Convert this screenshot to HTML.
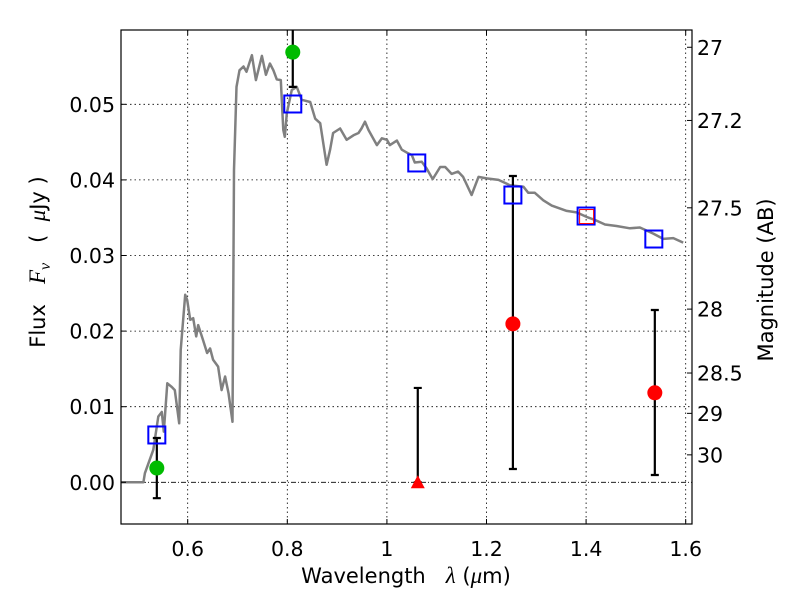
<!DOCTYPE html>
<html><head><meta charset="utf-8">
<style>
body{margin:0;background:#fff;}
svg{display:block;font-family:"DejaVu Sans","Liberation Sans",sans-serif;}
.m{font-family:"Liberation Serif","DejaVu Serif",serif;font-style:italic;}
.pre{white-space:pre;}
</style></head>
<body>
<svg id="chart" width="800" height="600" viewBox="0 0 800 600" xmlns="http://www.w3.org/2000/svg">
<rect x="0" y="0" width="800" height="600" fill="#fff"/>
<g id="grid"></g>
<g id="plot"></g>
<rect x="121" y="30" width="571" height="494" fill="none" stroke="#000" stroke-width="1.2"/>
<g id="axes"></g>
<text class="pre" x="406" y="583" text-anchor="middle" font-size="21">Wavelength&#160;&#160;&#160;<tspan class="m" font-size="23">λ</tspan> (<tspan class="m" font-size="23">μ</tspan>m)</text>
<text class="pre" transform="translate(45,262) rotate(-90)" text-anchor="middle" font-size="21">Flux&#160;&#160;&#160;<tspan class="m" font-size="23">F</tspan><tspan class="m" font-size="16" dy="5">ν</tspan><tspan dy="-5">&#160;&#160;&#160;(&#160;&#160;</tspan><tspan class="m" font-size="23">μ</tspan>Jy&#160;)</text>
<text transform="translate(773,280) rotate(-90)" text-anchor="middle" font-size="21">Magnitude (AB)</text>
</svg>
<script>
const specLam=[0.466,0.511,0.514,0.531,0.541,0.548,0.552,0.559,0.568,0.574,0.583,0.586,0.595,0.599,0.605,0.611,0.617,0.621,0.631,0.639,0.645,0.651,0.661,0.668,0.675,0.682,0.690,0.693,0.698,0.704,0.712,0.718,0.729,0.737,0.749,0.757,0.765,0.772,0.779,0.787,0.792,0.795,0.799,0.809,0.819,0.829,0.846,0.856,0.866,0.879,0.886,0.892,0.906,0.919,0.933,0.943,0.949,0.956,0.963,0.980,0.990,1.000,1.006,1.020,1.030,1.043,1.050,1.056,1.070,1.080,1.092,1.107,1.117,1.130,1.143,1.153,1.170,1.184,1.200,1.224,1.247,1.274,1.284,1.297,1.314,1.331,1.361,1.381,1.401,1.418,1.438,1.461,1.488,1.508,1.535,1.555,1.575,1.595];
const specFlux=[0,0,0.0012,0.0043,0.0087,0.0093,0.0067,0.0131,0.0126,0.0122,0.0078,0.0175,0.0248,0.0241,0.0215,0.0217,0.0193,0.0208,0.0188,0.0171,0.0177,0.0162,0.0153,0.0122,0.0140,0.0118,0.0080,0.0413,0.0523,0.0545,0.0550,0.0543,0.0565,0.0532,0.0564,0.0539,0.0554,0.0545,0.0533,0.0532,0.0466,0.0457,0.0488,0.0519,0.0523,0.0506,0.0503,0.0481,0.0475,0.0420,0.0440,0.0462,0.0468,0.0453,0.0459,0.0462,0.0468,0.0477,0.0466,0.0446,0.0455,0.0453,0.0446,0.0452,0.0440,0.0435,0.0433,0.0423,0.0424,0.0415,0.0401,0.0417,0.0417,0.0408,0.0411,0.0404,0.0380,0.0404,0.0402,0.0400,0.0393,0.0391,0.0383,0.0383,0.0373,0.0366,0.0359,0.0357,0.0351,0.0347,0.0341,0.0339,0.0336,0.0337,0.0329,0.0322,0.0323,0.0317];
const modelLam=[0.538,0.811,1.060,1.253,1.400,1.536];
const modelFlux=[0.00626,0.05004,0.04224,0.0380,0.03522,0.03218];
const detLam=[0.538,0.811];
const detFlux=[0.00189,0.0569];
const detLo=[-0.0021,0.0523];
const detHi=[0.00586,0.0620];
const redLam=[1.253,1.538];
const redFlux=[0.02096,0.01184];
const redLo=[0.00176,0.00097];
const redHi=[0.04052,0.02279];
const limLam=[1.062];
const limFlux=[0.0];
const limHi=[0.01248];
const xTicks=[0.6,0.8,1.0,1.2,1.4,1.6];
const xTickLabels=["0.6","0.8","1","1.2","1.4","1.6"];
const yTicks=[0,0.01,0.02,0.03,0.04,0.05];
const yTickLabels=["0.00","0.01","0.02","0.03","0.04","0.05"];
const magTicks=[27,27.2,27.5,28,28.5,29,30];
const magTickLabels=["27","27.2","27.5","28","28.5","29","30"];

const L=121,R=692,T=30,B=524;
function X(l){return 187.7+(l-0.6)*498;}
function Y(f){return 482.3-f*7560;}
function magToFlux(m){return Math.pow(10,-(m-23.9)/2.5);}
const NS="http://www.w3.org/2000/svg";
function mk(tag,attrs,parent){const e=document.createElementNS(NS,tag);for(const k in attrs)e.setAttribute(k,attrs[k]);parent.appendChild(e);return e;}
const grid=document.getElementById('grid'),plot=document.getElementById('plot'),axes=document.getElementById('axes');
function clampY(y){return Math.max(T,Math.min(B,y));}

xTicks.forEach((t,i)=>{
  const x=X(t);
  let g=mk('line',{x1:x,x2:x,y1:T,y2:B,stroke:'#000','stroke-width':0.8,'stroke-dasharray':'1.5,3'},grid);
  
  
  let tk=mk('path',{d:`M${x},${B}v-5M${x},${T}v5`,stroke:'#000','stroke-width':1},axes);
  
  
  let tx=mk('text',{x:x,y:556,'text-anchor':'middle','font-size':20.5},axes);
  tx.textContent=xTickLabels[i];
  
  
});
yTicks.forEach((t,i)=>{
  const y=Y(t);
  let g=mk('line',{x1:L,x2:R,y1:y,y2:y,stroke:'#000','stroke-width':0.8,'stroke-dasharray':t===0?'5,2,1,2':'1.5,3'},grid);
  
  
  let tk=mk('path',{d:`M${L},${y}h5`,stroke:'#000','stroke-width':1},axes);
  
  
  let tx=mk('text',{x:115,y:y+7.5,'text-anchor':'end','font-size':20.5},axes);
  tx.textContent=yTickLabels[i];
  
  
});
magTicks.forEach((m,i)=>{
  const y=Y(magToFlux(m));
  let tk=mk('path',{d:`M${R},${y}h-5`,stroke:'#000','stroke-width':1},axes);
  
  
  let tx=mk('text',{x:697,y:y+7.5,'font-size':20.5},axes);
  tx.textContent=magTickLabels[i];
  
  
});

let d=specLam.map((l,i)=>(i?'L':'M')+X(l).toFixed(1)+','+Y(specFlux[i]).toFixed(1)).join('');
let sp=mk('path',{d:d,fill:'none',stroke:'#808080','stroke-width':2.5,'stroke-linejoin':'round'},plot);



function errbar(l,lo,hi,name){
  const x=X(l),y1=clampY(Y(hi)),y2=clampY(Y(lo));
  let p='M'+x+','+y1+'V'+y2;
  if(Y(hi)>=T)p+='M'+(x-4)+','+y1+'h8';
  if(Y(lo)<=B)p+='M'+(x-4)+','+y2+'h8';
  let e=mk('path',{d:p,stroke:'#000','stroke-width':2.2,fill:'none'},plot);
  
  
}
detLam.forEach((l,i)=>errbar(l,detLo[i],detHi[i],'detection-errorbar'));
redLam.forEach((l,i)=>errbar(l,redLo[i],redHi[i],'flux-errorbar'));
limLam.forEach((l,i)=>errbar(l,limFlux[i],limHi[i],'limit-errorbar'));

modelLam.forEach((l,i)=>{
  let s=mk('rect',{x:X(l)-8.5,y:Y(modelFlux[i])-8.5,width:17,height:17,fill:'none',stroke:'#0000ff','stroke-width':2},plot);
  
  
});
let rs=mk('rect',{x:X(modelLam[4])-6.5,y:Y(modelFlux[4])-6.5,width:14,height:14,fill:'none',stroke:'#ff0000','stroke-width':1},plot);



detLam.forEach((l,i)=>{
  let c=mk('circle',{cx:X(l),cy:Y(detFlux[i]),r:7.5,fill:'#00bb00'},plot);
  
  
});
redLam.forEach((l,i)=>{
  let c=mk('circle',{cx:X(l),cy:Y(redFlux[i]),r:7.5,fill:'#ff0000'},plot);
  
  
});
limLam.forEach((l,i)=>{
  const x=X(l),y=Y(limFlux[i]);
  let t=mk('path',{d:`M${x},${y-7}L${x+7},${y+6}L${x-7},${y+6}Z`,fill:'#ff0000'},plot);
  
  
});
</script>
</body></html>
